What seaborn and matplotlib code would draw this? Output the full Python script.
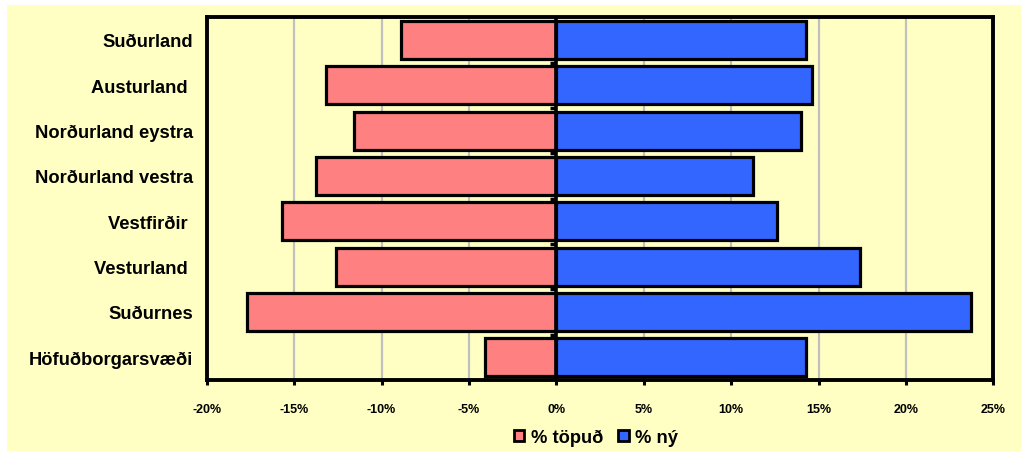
import numpy as np
import pandas as pd
import matplotlib
matplotlib.use("Agg")
import matplotlib.pyplot as plt
from matplotlib.patches import Rectangle, Patch
import seaborn as sns

regions = ["Suðurland", "Austurland ", "Norðurland eystra", "Norðurland vestra",
           "Vestfirðir ", "Vesturland ", "Suðurnes", "Höfuðborgarsvæði"]
lost = [-8.9, -13.2, -11.6, -13.75, -15.7, -12.6, -17.7, -4.1]
new = [14.3, 14.6, 14.0, 11.25, 12.6, 17.4, 23.7, 14.3]
xticks = [-20, -15, -10, -5, 0, 5, 10, 15, 20, 25]
xtick_labels = ["-20%", "-15%", "-10%", "-5%", "0%", "5%", "10%", "15%", "20%", "25%"]
series_names = ["% töpuð", "% ný"]

pink = "#FF8080"
blue = "#3366FF"
bg = "#FFFFC4"

sns.set_style("white")
plt.rcParams["font.family"] = ["Liberation Sans", "DejaVu Sans"]
plt.rcParams["font.weight"] = "bold"
plt.rcParams["text.color"] = "black"
plt.rcParams["xtick.color"] = "black"
plt.rcParams["ytick.color"] = "black"
plt.rcParams["axes.labelcolor"] = "black"

W, H = 1021, 452
fig = plt.figure(figsize=(W / 100, H / 100), dpi=100, facecolor="white")
fig.patches.append(Rectangle((7 / W, 0), 1 - 7 / W, 1 - 6 / H, transform=fig.transFigure,
                             facecolor=bg, edgecolor="none", zorder=-10))

ax = fig.add_axes([206.7 / W, 1 - 381 / H, (993.3 - 206.7) / W, (381 - 18.3) / H])
ax.set_zorder(1)
ax.set_facecolor(bg)

df = pd.DataFrame({"region": regions, "lost": lost, "new": new})
sns.barplot(data=df, x="lost", y="region", color=pink, saturation=1, width=0.84,
            edgecolor="black", linewidth=2.3, ax=ax, zorder=2)
sns.barplot(data=df, x="new", y="region", color=blue, saturation=1, width=0.84,
            edgecolor="black", linewidth=2.3, ax=ax, zorder=2)

ax.set_xlim(-20, 25)
ax.set_ylim(len(regions) - 0.5, -0.5)
ax.set_xticks(xticks)
ax.set_xticklabels(xtick_labels, fontsize=9, fontweight="bold")
ax.set_xlabel("")
ax.set_ylabel("")
for lab in ax.get_yticklabels():
    lab.set_fontsize(13.2)
    lab.set_fontweight("bold")

ax.grid(axis="x", color="#C0C0C0", lw=1.6, zorder=0)
ax.grid(axis="y", visible=False)
ax.set_axisbelow(True)

for s in ax.spines.values():
    s.set_visible(True)
    s.set_color("black")
    s.set_linewidth(2.8)

ax.tick_params(axis="x", direction="out", length=3.5, width=2.2, color="black", pad=13)
ax.tick_params(axis="y", length=0, pad=10)
ax.xaxis.set_ticks_position("bottom")

# category axis at zero with boundary tick marks
ax.axvline(0, color="black", lw=2.6, zorder=4)
ax.hlines(np.arange(0.5, len(regions)), -0.35, 0, color="black", lw=2.5, zorder=4)

handles = [Patch(facecolor=pink, edgecolor="black", linewidth=2),
           Patch(facecolor=blue, edgecolor="black", linewidth=2)]
fig.legend(handles, series_names, loc="center", bbox_to_anchor=(596 / W, 1 - 438 / H),
           ncol=2, frameon=False, prop={"size": 13.2, "weight": "bold"},
           handlelength=0.55, handleheight=0.55, handletextpad=0.35, columnspacing=0.85)

fig.savefig("out.png", dpi=100, facecolor="white")
